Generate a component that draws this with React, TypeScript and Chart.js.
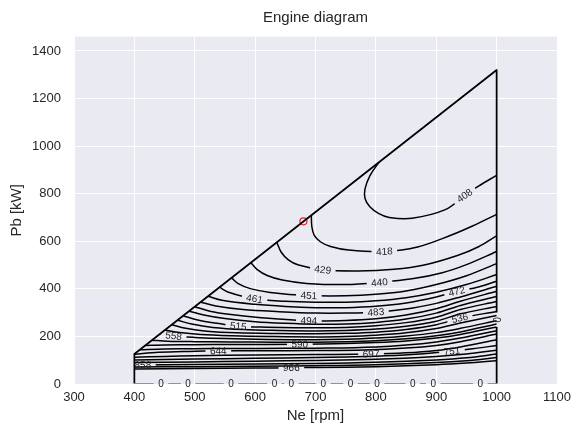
import React, { useEffect, useRef } from 'react';
import { Chart, registerables } from 'chart.js';

Chart.register(...registerables);

type Pt = [number, number];

const FONT = "'Liberation Sans', Arial, Helvetica, sans-serif";
const TEXT_COLOR = '#262626';
const PANEL_BG = '#EAEAF2';

const chartTitle = 'Engine diagram';
const xTitle = 'Ne [rpm]';
const yTitle = 'Pb [kW]';
const xTicks = [300, 400, 500, 600, 700, 800, 900, 1000, 1100];
const yTicks = [0, 200, 400, 600, 800, 1000, 1200, 1400];
const xLimits: Pt = [300, 1100];
const yLimits: Pt = [0, 1460];

// contour lines: [Ne rpm, Pb kW]
const c408: Pt[] = [[805, 932], [790, 875], [782, 820], [782, 780], [790, 745], [805, 716], [822, 700], [860, 697], [915, 733], [947, 792], [970, 832], [1000, 877]];
const c418: Pt[] = [[693, 709], [694, 660], [698, 625], [708, 598], [725, 578], [755, 563], [814, 557], [869, 576], [923, 624], [960, 664], [1000, 713]];
const c429: Pt[] = [[636, 595], [643, 555], [655, 522], [672, 500], [712, 480], [770, 475], [830, 482], [880, 500], [935, 540], [970, 577], [1000, 623]];
const c440: Pt[] = [[593, 510], [603, 482], [620, 456], [645, 437], [685, 423], [750, 418], [806, 427], [860, 442], [910, 468], [950, 502], [1000, 557]];
const c451: Pt[] = [[561, 446], [572, 422], [592, 401], [625, 385], [689, 372], [750, 371], [800, 377], [850, 391], [900, 418], [950, 455], [1000, 506]];
const c461: Pt[] = [[541, 407], [556, 386], [599, 358], [650, 348], [700, 344], [750, 344], [800, 350], [850, 363], [900, 386], [950, 418], [1000, 460]];
const c472: Pt[] = [[522, 369], [545, 352], [600, 335], [650, 326], [700, 321], [750, 321], [800, 327], [850, 341], [900, 366], [934, 389], [970, 408], [1000, 432]];
const c483: Pt[] = [[510, 344], [535, 328], [580, 313], [640, 304], [700, 298], [750, 298], [800, 302], [850, 315], [900, 339], [940, 366], [1000, 411]];
const c494: Pt[] = [[500, 325], [525, 306], [560, 292], [610, 279], [689, 266], [750, 267], [800, 274], [850, 290], [900, 316], [940, 348], [1000, 390]];
const c504: Pt[] = [[490.7, 306], [515, 290], [550, 275], [600, 262], [650, 255], [700, 251], [750, 252], [800, 259], [850, 273], [900, 298], [940, 330], [1000, 368]];
const c515: Pt[] = [[480.8, 287], [505, 269], [540, 254], [572, 243], [620, 239], [700, 236], [750, 238], [800, 245], [850, 258], [900, 281], [940, 313], [1000, 347]];
const c526: Pt[] = [[471.6, 268], [495, 252], [530, 238], [580, 229], [640, 225], [700, 223], [750, 225], [800, 231], [850, 243], [900, 264], [940, 295], [1000, 326]];
const c536: Pt[] = [[461.8, 249], [485, 234], [520, 222], [570, 215], [640, 212], [700, 211], [750, 213], [800, 218], [850, 229], [900, 249], [939, 277], [1000, 305]];
const c547: Pt[] = [[450.8, 227], [475, 216], [510, 208], [560, 203], [620, 200], [700, 198], [750, 200], [800, 205], [850, 215], [900, 233], [940, 256], [1000, 288]];
const c558: Pt[] = [[442.6, 211], [465, 202], [500, 196], [550, 191], [620, 187.5], [700, 186], [750, 188], [800, 193], [850, 202], [900, 216], [940, 234], [1000, 266]];
const c579: Pt[] = [[429, 184], [455, 180], [500, 178], [560, 177], [630, 176], [700, 176], [750, 178], [800, 182], [850, 190], [900, 203], [940, 219], [1000, 252]];
const c590: Pt[] = [[418, 162], [450, 164], [500, 165], [560, 166], [674, 167], [750, 170], [800, 174], [850, 181], [900, 193], [940, 208], [1000, 240]];
const c617: Pt[] = [[409, 144], [450, 147], [500, 148.5], [560, 149.5], [650, 150], [720, 151], [800, 156], [850, 164], [900, 177], [940, 193], [1000, 224]];
const c644: Pt[] = [[400, 125], [440, 133], [490, 137], [539, 139], [600, 139.5], [700, 140.5], [780, 143], [850, 151], [900, 162], [940, 178], [1000, 210]];
const c697: Pt[] = [[400, 112], [450, 116], [500, 119], [600, 122], [700, 124], [792, 126], [850, 131], [900, 141], [940, 156], [1000, 186]];
const c751: Pt[] = [[400, 101], [500, 105], [600, 108], [700, 111], [800, 117], [860, 124], [925.6, 138], [960, 148], [1000, 162]];
const c804: Pt[] = [[400, 90], [500, 93], [600, 96], [700, 99], [800, 104], [900, 116], [950, 126], [1000, 142]];
const c858: Pt[] = [[400, 80], [500, 82], [600, 84], [700, 86], [800, 91], [900, 101], [950, 110], [1000, 126]];
const c912: Pt[] = [[400, 71], [500, 73], [600, 75], [700, 77], [800, 81], [900, 90], [950, 98], [1000, 111]];
const c966: Pt[] = [[400, 63], [500, 65], [600, 67], [660, 68.5], [700, 69.5], [800, 73], [900, 81], [950, 88], [1000, 98]];

const levelNames = ['408', '418', '429', '440', '451', '461', '472', '483', '494', '504', '515', '526', '536', '547', '558', '579', '590', '617', '644', '697', '751', '804', '858', '912', '966'];
const contourLines: Pt[][] = [c408, c418, c429, c440, c451, c461, c472, c483, c494, c504, c515, c526, c536, c547, c558, c579, c590, c617, c644, c697, c751, c804, c858, c912, c966];
// rpm where each level carries its inline label (null = no label)
const labelRpm: (number | null)[] = [947, 814, 712, 806, 689, 599, 934, 800, 689, null, 572, null, 939, null, 465, null, 674, null, 539, 792, 926, null, 414, null, 660];

// zero-level contour = operating envelope
const envelope: Pt[] = [[400, 0], [400, 126], [1000, 1320], [1000, 0], [400, 0]];
const zeroLabelRpm = [444, 489, 560, 632, 660, 713, 758, 802, 861, 895, 973];
const zeroSideLabel: Pt = [1000, 270];
const operatingPoint: Pt = [680, 684];

interface Lbl { ds: number; px: number; py: number; a: number; text: string; pad: number; }

function interpAt(pts: Pt[], n: number): number | null {
  for (let i = 0; i < pts.length - 1; i++) {
    const [x0, y0] = pts[i];
    const [x1, y1] = pts[i + 1];
    if (x0 !== x1 && (n - x0) * (n - x1) <= 0) {
      return y0 + ((y1 - y0) * (n - x0)) / (x1 - x0);
    }
  }
  return null;
}

const LABEL_FONT = `10px ${FONT}`;

function buildLabels(chart: any): Lbl[] {
  const xs = chart.scales.x;
  const ys = chart.scales.y;
  const out: Lbl[] = [];
  contourLines.forEach((pts, i) => {
    const n = labelRpm[i];
    if (n == null) return;
    const p = interpAt(pts, n);
    if (p == null) return;
    const pa = interpAt(pts, n - 8) ?? p;
    const pb = interpAt(pts, n + 8) ?? p;
    const x1 = xs.getPixelForValue(n - 8);
    const y1 = ys.getPixelForValue(pa);
    const x2 = xs.getPixelForValue(n + 8);
    const y2 = ys.getPixelForValue(pb);
    let a = Math.atan2(y2 - y1, x2 - x1);
    if (a > Math.PI / 2) a -= Math.PI;
    if (a < -Math.PI / 2) a += Math.PI;
    out.push({ ds: i, px: xs.getPixelForValue(n), py: ys.getPixelForValue(p), a, text: levelNames[i], pad: 9 });
  });
  const envIdx = contourLines.length;
  out.push({ ds: envIdx, px: xs.getPixelForValue(zeroSideLabel[0]), py: ys.getPixelForValue(zeroSideLabel[1]), a: Math.PI / 2, text: '0', pad: 9 });
  zeroLabelRpm.forEach((n) => {
    out.push({ ds: envIdx, px: xs.getPixelForValue(n), py: ys.getPixelForValue(0), a: 0, text: '0', pad: 9 });
  });
  return out;
}

const contourLabelPlugin = {
  id: 'contourLabels',
  beforeDatasetsDraw(chart: any) {
    chart.$clabels = buildLabels(chart);
  },
  beforeDatasetDraw(chart: any, args: any) {
    const items: Lbl[] = (chart.$clabels || []).filter((l: Lbl) => l.ds === args.index);
    if (!items.length) return;
    const ctx = chart.ctx;
    ctx.save();
    ctx.font = LABEL_FONT;
    ctx.beginPath();
    ctx.rect(0, 0, chart.width, chart.height);
    for (const l of items) {
      const w = ctx.measureText(l.text).width + l.pad;
      const h = 8;
      const c = Math.cos(l.a);
      const s = Math.sin(l.a);
      const corners = [[-w / 2, -h / 2], [w / 2, -h / 2], [w / 2, h / 2], [-w / 2, h / 2]].map(([dx, dy]) => [l.px + dx * c - dy * s, l.py + dx * s + dy * c]);
      ctx.moveTo(corners[0][0], corners[0][1]);
      for (let k = 1; k < 4; k++) ctx.lineTo(corners[k][0], corners[k][1]);
      ctx.closePath();
    }
    ctx.clip('evenodd');
    chart.$clipActive = args.index;
  },
  afterDatasetDraw(chart: any, args: any) {
    if (chart.$clipActive === args.index) {
      chart.ctx.restore();
      chart.$clipActive = null;
    }
  },
  afterDatasetsDraw(chart: any) {
    const ctx = chart.ctx;
    const items: Lbl[] = chart.$clabels || [];
    ctx.save();
    ctx.font = LABEL_FONT;
    ctx.fillStyle = '#222222';
    ctx.textAlign = 'center';
    ctx.textBaseline = 'middle';
    for (const l of items) {
      ctx.save();
      ctx.translate(l.px, l.py);
      ctx.rotate(l.a);
      ctx.fillText(l.text, 0, 0.5);
      ctx.restore();
    }
    ctx.restore();
  },
};

const panelPlugin = {
  id: 'panelBg',
  beforeDraw(chart: any) {
    const { ctx, chartArea } = chart;
    ctx.save();
    ctx.fillStyle = PANEL_BG;
    ctx.fillRect(chartArea.left, chartArea.top, chartArea.right - chartArea.left, chartArea.bottom - chartArea.top);
    ctx.restore();
  },
};

// title centred over the plotting area (matplotlib style)
const axesTitlePlugin = {
  id: 'axesTitle',
  afterDraw(chart: any) {
    const { ctx, chartArea } = chart;
    ctx.save();
    ctx.font = `15px ${FONT}`;
    ctx.fillStyle = TEXT_COLOR;
    ctx.textAlign = 'center';
    ctx.textBaseline = 'middle';
    ctx.fillText(chartTitle, (chartArea.left + chartArea.right) / 2, 18);
    ctx.restore();
  },
};

export default function App() {
  const ref = useRef<HTMLCanvasElement | null>(null);

  useEffect(() => {
    document.body.style.margin = '0';
    const canvas = ref.current;
    if (!canvas) return;

    const datasets: any[] = contourLines.map((pts, i) => ({
      label: levelNames[i],
      data: pts.map(([x, y]) => ({ x, y })),
      showLine: true,
      borderColor: '#000000',
      borderWidth: 1.5,
      borderJoinStyle: 'round',
      pointRadius: 0,
      tension: 0.35,
      fill: false,
    }));
    datasets.push({
      label: 'envelope',
      data: envelope.map(([x, y]) => ({ x, y })),
      showLine: true,
      borderColor: '#000000',
      borderWidth: 1.75,
      borderJoinStyle: 'round',
      pointRadius: 0,
      tension: 0,
      fill: false,
      clip: { left: 0, top: 0, right: 0, bottom: -0.5 },
    });
    datasets.push({
      label: 'point',
      data: [{ x: operatingPoint[0], y: operatingPoint[1] }],
      showLine: false,
      pointRadius: 3.5,
      pointBorderWidth: 1.2,
      pointBorderColor: '#e3242b',
      pointBackgroundColor: 'rgba(0,0,0,0)',
    });

    const chart = new Chart(canvas, {
      type: 'scatter',
      data: { datasets },
      plugins: [panelPlugin, contourLabelPlugin, axesTitlePlugin],
      options: {
        animation: false,
        responsive: false,
        devicePixelRatio: 1,
        events: [],
        layout: { padding: { left: 0, right: 13.5, top: 36.7, bottom: 0 } },
        plugins: {
          legend: { display: false },
          tooltip: { enabled: false },
          title: { display: false },
        },
        scales: {
          x: {
            type: 'linear',
            min: xLimits[0],
            max: xLimits[1],
            afterBuildTicks: (s: any) => {
              s.ticks = xTicks.map((v) => ({ value: v }));
            },
            afterFit: (s: any) => {
              s.height = 51;
            },
            grid: { color: '#ffffff', lineWidth: 1, drawTicks: false },
            border: { display: false },
            ticks: {
              font: { family: FONT, size: 13 },
              color: TEXT_COLOR,
              padding: 6,
              autoSkip: false,
              maxRotation: 0,
              callback: (v: any) => String(v),
            },
            title: {
              display: true,
              text: xTitle,
              color: TEXT_COLOR,
              font: { family: FONT, size: 15 },
              padding: { top: 0, bottom: 10 },
            },
          },
          y: {
            type: 'linear',
            min: yLimits[0],
            max: yLimits[1],
            afterBuildTicks: (s: any) => {
              s.ticks = yTicks.map((v) => ({ value: v }));
            },
            afterFit: (s: any) => {
              s.width = 74;
            },
            grid: { color: '#ffffff', lineWidth: 1, drawTicks: false },
            border: { display: false },
            ticks: {
              font: { family: FONT, size: 13 },
              color: TEXT_COLOR,
              padding: 13,
              autoSkip: false,
              callback: (v: any) => String(v),
            },
            title: {
              display: true,
              text: yTitle,
              color: TEXT_COLOR,
              font: { family: FONT, size: 15 },
              padding: { top: 8, bottom: 0 },
            },
          },
        },
      } as any,
    });

    return () => {
      chart.destroy();
    };
  }, []);

  return (
    <div style={{ position: 'absolute', left: 0, top: 0 }}>
      <canvas ref={ref} width={577} height={435} style={{ display: 'block' }} />
    </div>
  );
}
